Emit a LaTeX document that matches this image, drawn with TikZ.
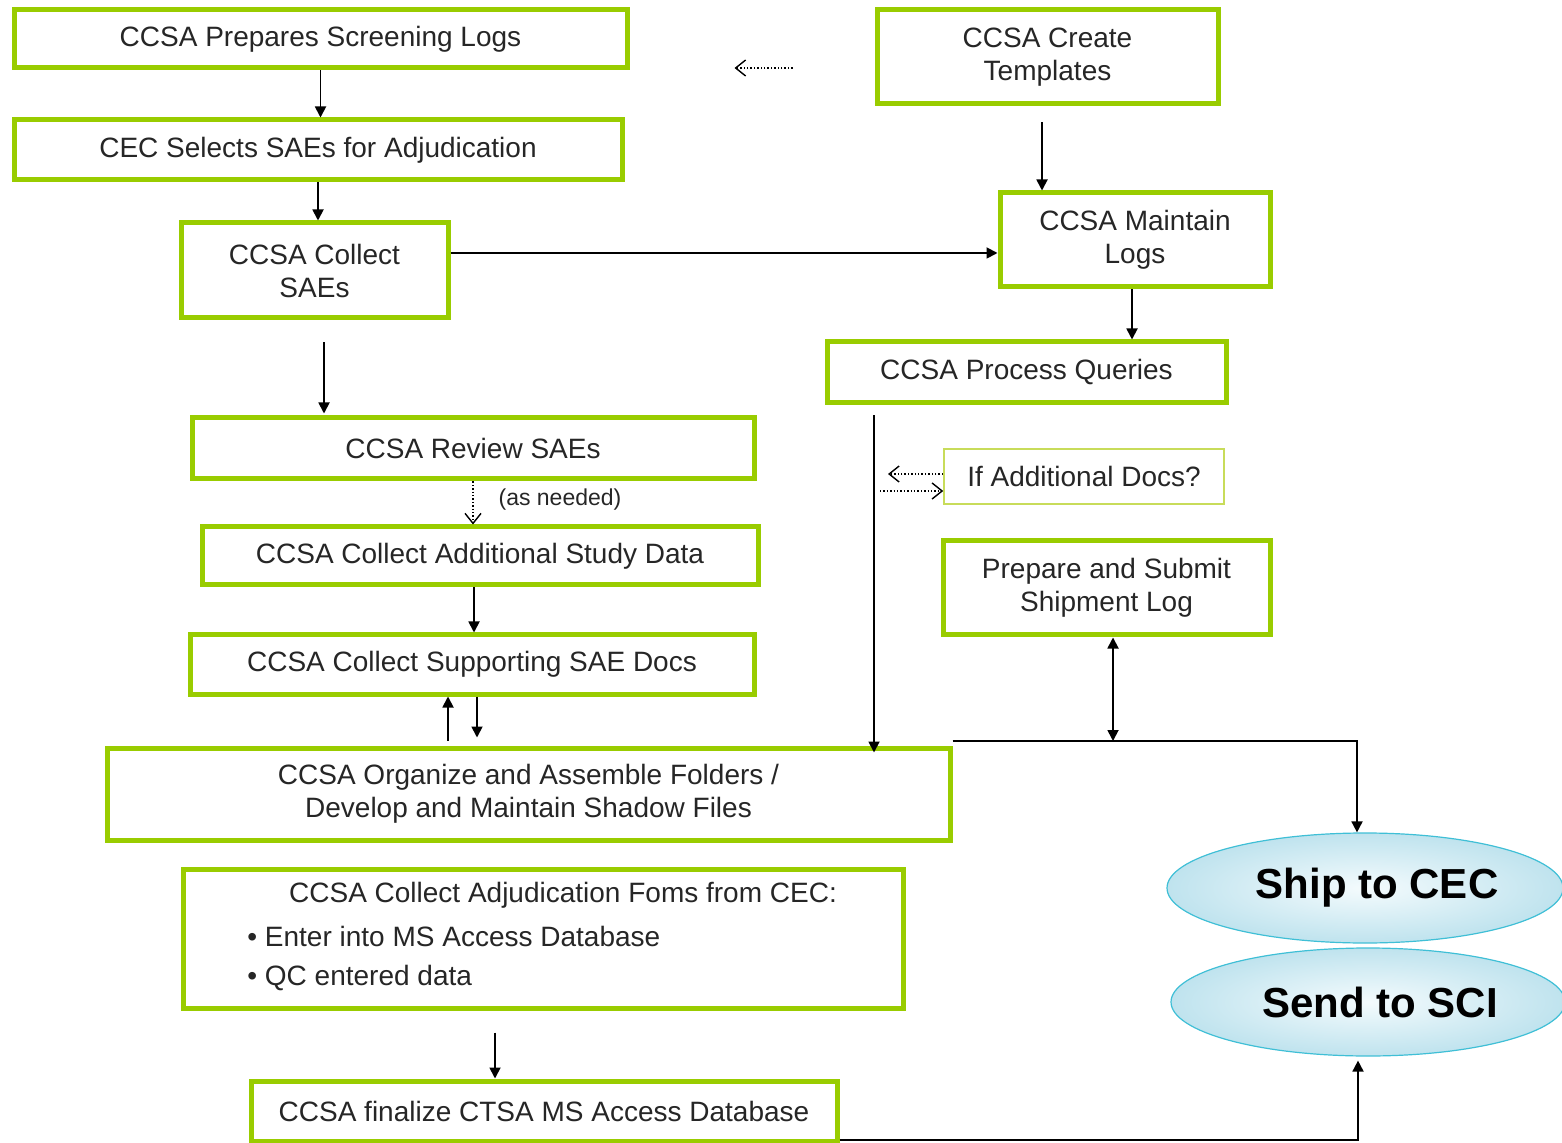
\documentclass[tikz,border=0pt]{standalone}
\usepackage{fontspec}
\setmainfont{Liberation Sans}
\usetikzlibrary{arrows.meta,shapes.geometric,calc}
\definecolor{boxgreen}{HTML}{99CC00}
\definecolor{thingreen}{HTML}{C8DC5A}
\definecolor{txtc}{HTML}{262626}
\definecolor{ellin}{HTML}{F4FBFD}
\definecolor{ellout}{HTML}{BFE3EE}
\definecolor{ellline}{HTML}{3FBFD6}
\begin{document}
\begin{tikzpicture}[x=0.5pt,y=-0.5pt,
  gbox/.style={draw=boxgreen, line width=2.5pt, fill=white, inner sep=0pt, align=center,
    font=\fontsize{14}{16.5}\selectfont, text=txtc},
  tbox/.style={draw=thingreen, line width=0.8pt, fill=white, inner sep=0pt, align=center,
    font=\fontsize{14}{16.5}\selectfont, text=txtc},
  plain/.style={inner sep=0pt, font=\fontsize{14}{16.5}\selectfont, text=txtc},
  ell/.style={ellipse, draw=ellline, line width=0.6pt, inner color=ellin, outer color=ellout,
    inner sep=0pt},
  elltext/.style={inner sep=0pt, font=\fontsize{21}{24}\bfseries\selectfont, text=black},
  arr/.style={line width=0.9pt, -{Triangle[length=5.5pt,width=5.5pt]}},
  arrtwo/.style={line width=0.9pt, {Triangle[length=5.5pt,width=5.5pt]}-{Triangle[length=5.5pt,width=5.5pt]}},
  dotarr/.style={line width=0.7pt, densely dotted, -{Straight Barb[length=5pt,width=8pt,line width=0.7pt]}},
  line/.style={line width=0.9pt}]
\useasboundingbox (0,0) rectangle (1562,1143);

% boxes
\node[gbox, minimum width=306.5pt, minimum height=29pt] (prep) at (320.5,39) {CCSA Prepares Screening Logs};
\node[gbox, minimum width=304pt, minimum height=30pt] (csel) at (318,150) {CEC Selects SAEs for Adjudication};
\node[gbox, minimum width=133.5pt, minimum height=47.5pt] (csae) at (314.5,270.5) {CCSA Collect\\SAEs};
\node[gbox, minimum width=170.5pt, minimum height=47pt] (templ) at (1047.5,57) {CCSA Create\\Templates};
\node[gbox, minimum width=135pt, minimum height=47pt] (maint) at (1135,240) {CCSA Maintain\\Logs};
\node[gbox, minimum width=199.5pt, minimum height=30.5pt] (query) at (1026.5,372.5) {CCSA Process Queries};
\node[gbox, minimum width=281pt, minimum height=30.5pt] (review) at (473,448.5) {CCSA Review SAEs};
\node[tbox, minimum width=140pt, minimum height=27.5pt] (ifad) at (1084,476.5) {If Additional Docs?};
\node[gbox, minimum width=278pt, minimum height=29pt] (addl) at (480,556) {CCSA Collect Additional Study Data};
\node[gbox, minimum width=163.5pt, minimum height=47pt] (slog) at (1106.5,588) {Prepare and Submit\\Shipment Log};
\node[gbox, minimum width=282pt, minimum height=29.5pt] (supp) at (472,664.5) {CCSA Collect Supporting SAE Docs};
\node[gbox, minimum width=421.5pt, minimum height=46pt] (org) at (528.5,794) {CCSA Organize and Assemble Folders /\\Develop and Maintain Shadow Files};
\node[gbox, minimum width=360pt, minimum height=69.5pt] (adj) at (543,938.5) {};
\node[plain] (adjt) at (563,895) {CCSA Collect Adjudication Foms from CEC:};
\node[plain, anchor=west] (adjb1) at (247,936) {•\ Enter into MS Access Database};
\node[plain, anchor=west] (adjb2) at (247,978) {•\ QC entered data};
\node[gbox, minimum width=293pt, minimum height=30pt] (fin) at (544,1111) {CCSA finalize CTSA MS Access Database};

\node[ell, minimum width=198pt, minimum height=55pt] (ship) at (1365,888) {};
\node[elltext] (shipt) at (1377,888) {Ship to CEC};
\node[ell, minimum width=197pt, minimum height=54pt] (send) at (1368,1002) {};
\node[elltext] (sendt) at (1380,1002) {Send to SCI};

\node[inner sep=0pt, font=\fontsize{11.5}{13}\selectfont, text=txtc] (asn) at (560,500) {(as needed)};

% helper coordinates
\coordinate (hA) at (0,253);
\coordinate (vA) at (324,0);
\coordinate (vB) at (1042,0);
\coordinate (vC) at (1132,0);
\coordinate (vD) at (874,0);
\coordinate (hB) at (0,68);
\coordinate (vE) at (474,0);
\coordinate (vF) at (448,0);
\coordinate (vG) at (477,0);
\coordinate (junc) at (1357,741);
\coordinate (vH) at (1113,0);
\coordinate (vK) at (1358,0);
\coordinate (hE) at (0,1140);
\coordinate (vL) at (495,0);
\coordinate (hC) at (0,474);
\coordinate (hD) at (0,491);
\coordinate (qleft) at (888,474);
\coordinate (qstart) at (880,491);

% connectors
\draw[arr] (prep.south) -- (prep.south |- csel.north);
\draw[arr] (csel.south) -- (csel.south |- csae.north);
\draw[arr] (csae.east |- hA) -- (maint.west |- hA);
\draw[arr, shorten <=11pt, shorten >=1pt] (csae.south -| vA) -- (review.north -| vA);
\draw[arr, shorten <=8pt] (templ.south -| vB) -- (maint.north -| vB);
\draw[arr] (maint.south -| vC) -- (query.north -| vC);
\draw[arr, shorten <=5pt, shorten >=-3.5pt] (query.south -| vD) -- (org.north -| vD);
\draw[dotarr, shorten <=41pt, shorten >=52.5pt] (templ.west |- hB) -- (prep.east |- hB);
\draw[dotarr] (ifad.west |- hC) -- (qleft);
\draw[dotarr] (qstart) -- (ifad.west |- hD);
\draw[dotarr] (review.south) -- (review.south |- addl.north);
\draw[arr] (addl.south -| vE) -- (supp.north -| vE);
\draw[arr, shorten <=2.5pt] (org.north -| vF) -- (supp.south -| vF);
\draw[arr, shorten >=4pt] (supp.south -| vG) -- (org.north -| vG);
\draw[arr] (org.north east |- junc) -- (junc) -- (junc |- ship.north);
\draw[arrtwo] (slog.south -| vH) -- (vH |- junc);
\draw[arr] (fin.south east |- hE) -- (vK |- hE) -- ([yshift=-2pt]vK |- send.south);
\draw[arr, shorten <=11pt] (adj.south -| vL) -- (fin.north -| vL);
\end{tikzpicture}
\end{document}
